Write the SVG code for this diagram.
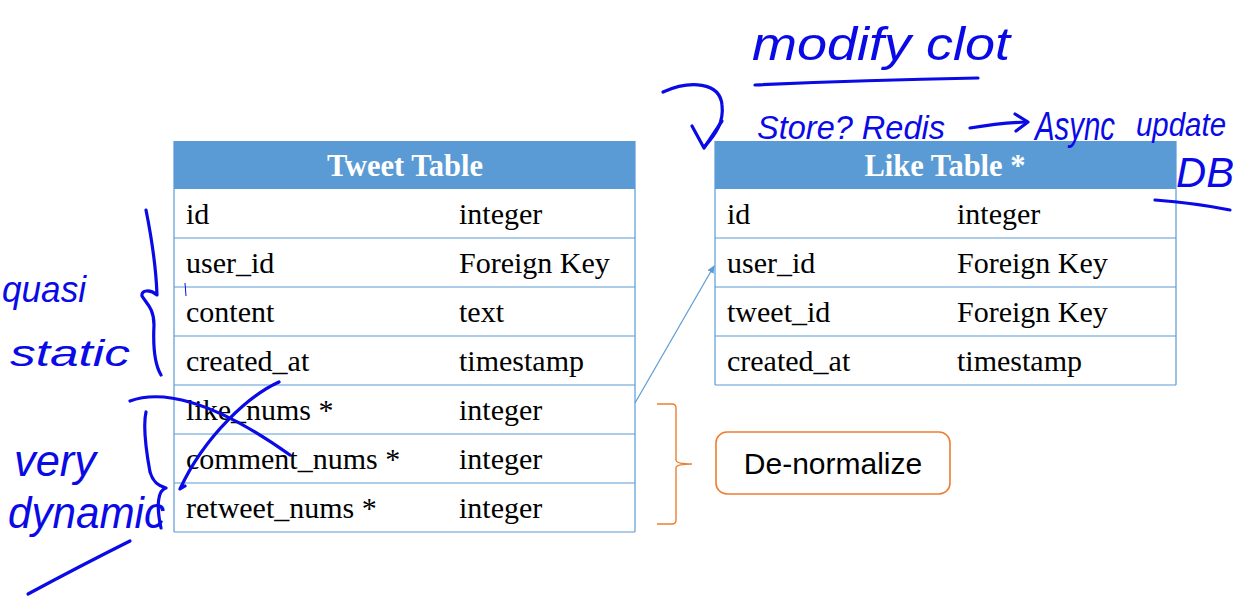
<svg xmlns="http://www.w3.org/2000/svg" width="1247" height="597" viewBox="0 0 1247 597">
  <defs>
    <style>
      .hdr { fill: #5B9BD5; }
      .grid { stroke: #5B9BD5; stroke-width: 1.2; fill: none; }
      .htitle { font-family: "Liberation Serif", "Times New Roman", serif; font-weight: bold; font-size: 30.5px; fill: #FFFFFF; text-anchor: middle; }
      .cell { font-family: "Liberation Serif", "Times New Roman", serif; font-size: 30px; fill: #000000; }
      .ink { stroke: #0A0AE6; stroke-width: 3.2; fill: none; stroke-linecap: round; stroke-linejoin: round; }
      .inkText { font-family: "Liberation Sans", "DejaVu Sans", sans-serif; font-style: italic; fill: #0A0AE6; }
      .note { font-family: "Liberation Sans", Arial, sans-serif; font-size: 30px; fill: #000000; text-anchor: middle; }
    </style>
    <marker id="arrowBlue" markerWidth="8" markerHeight="8" refX="7" refY="4" orient="auto" markerUnits="userSpaceOnUse">
      <path d="M0,0.5 L8,4 L0,7.5 Z" fill="#5B9BD5"/>
    </marker>
  </defs>

  <rect width="1247" height="597" fill="#FFFFFF"/>

  <!-- Tweet table -->
  <g id="tweet-table">
    <rect class="hdr" x="174" y="141" width="461" height="48"/>
    <text class="htitle" x="405" y="176">Tweet Table</text>
    <path class="grid" d="M174,141 V532 M635,141 V532 M174,238 H635 M174,287 H635 M174,336 H635 M174,385 H635 M174,434 H635 M174,483 H635 M174,532 H635"/>
    <g class="cell">
      <text x="186" y="224">id</text><text x="459" y="224">integer</text>
      <text x="186" y="273">user_id</text><text x="459" y="273">Foreign Key</text>
      <text x="186" y="322">content</text><text x="459" y="322">text</text>
      <text x="186" y="371">created_at</text><text x="459" y="371">timestamp</text>
      <text x="186" y="420">like_nums *</text><text x="459" y="420">integer</text>
      <text x="186" y="469">comment_nums *</text><text x="459" y="469">integer</text>
      <text x="186" y="518">retweet_nums *</text><text x="459" y="518">integer</text>
    </g>
  </g>

  <!-- Like table -->
  <g id="like-table">
    <rect class="hdr" x="715" y="141" width="461" height="48"/>
    <text class="htitle" x="945" y="176">Like Table *</text>
    <path class="grid" d="M715,141 V385 M1176,141 V385 M715,238 H1176 M715,287 H1176 M715,336 H1176 M715,385 H1176"/>
    <g class="cell">
      <text x="727" y="224">id</text><text x="957" y="224">integer</text>
      <text x="727" y="273">user_id</text><text x="957" y="273">Foreign Key</text>
      <text x="727" y="322">tweet_id</text><text x="957" y="322">Foreign Key</text>
      <text x="727" y="371">created_at</text><text x="957" y="371">timestamp</text>
    </g>
  </g>

  <!-- De-normalize callout -->
  <g id="denormalize">
    <rect x="716" y="432" width="234" height="62" rx="11" ry="11" fill="#FFFFFF" stroke="#ED7D31" stroke-width="1.6"/>
    <text class="note" x="833" y="474">De-normalize</text>
  </g>

  <!-- Connectors -->
  <g id="connectors">
    <line x1="635" y1="403" x2="714" y2="266" stroke="#5B9BD5" stroke-width="1.2" marker-end="url(#arrowBlue)"/>
    <path d="M657,404 H672 Q676,404 676,408 V460 Q676,464 692,464 Q676,464 676,468 V520 Q676,524 672,524 H657" fill="none" stroke="#ED7D31" stroke-width="1.4"/>
  </g>

  <!-- Handwritten annotations -->
  <g id="ink-top">
    <text class="inkText" x="752" y="60" font-size="46" textLength="258" lengthAdjust="spacingAndGlyphs">modify clot</text>
    <path class="ink" d="M755,85 Q860,80 978,78"/>
    <path class="ink" d="M663,92 C690,80 720,82 722,105 C724,122 716,134 705,146"/>
    <path class="ink" d="M692,126 L704,148 L722,121"/>
    <text class="inkText" x="757" y="139" font-size="34" textLength="188" lengthAdjust="spacingAndGlyphs">Store? Redis</text>
    <path class="ink" d="M970,128 Q1000,123 1026,122"/>
    <path class="ink" d="M1015,114 L1028,122 L1016,131"/>
    <text class="inkText" x="1035" y="140" font-size="40" textLength="80" lengthAdjust="spacingAndGlyphs">Async</text>
    <text class="inkText" x="1136" y="136" font-size="33" textLength="90" lengthAdjust="spacingAndGlyphs">update</text>
    <text class="inkText" x="1176" y="187" font-size="42" textLength="58" lengthAdjust="spacingAndGlyphs">DB</text>
    <path class="ink" d="M1155,200 Q1195,203 1230,210"/>
  </g>

  <g id="ink-left">
    <text class="inkText" x="2" y="302" font-size="36" textLength="84" lengthAdjust="spacingAndGlyphs">quasi</text>
    <text class="inkText" x="10" y="366" font-size="36" textLength="120" lengthAdjust="spacingAndGlyphs">static</text>
    <path class="ink" d="M146,210 C150,230 156,265 157,295 C150,289 141,290 142,296 C146,303 154,308 154,325 C153,345 155,365 161,375"/>
    <text class="inkText" x="14" y="476" font-size="44" textLength="82" lengthAdjust="spacingAndGlyphs">very</text>
    <text class="inkText" x="8" y="528" font-size="44" textLength="157" lengthAdjust="spacingAndGlyphs">dynamic</text>
    <path class="ink" d="M146,412 C143,425 146,450 150,472 C153,482 158,486 166,488 C158,490 156,505 161,528"/>
    <path class="ink" d="M28,594 Q80,566 130,541"/>
    <path class="ink" d="M130,401 C160,390 210,398 290,455"/>
    <path class="ink" d="M279,382 C250,395 205,435 180,489 L185,486"/>
    <path d="M185,283 L186,296" stroke="#0A0AE6" stroke-width="1" fill="none"/>
  </g>
</svg>
